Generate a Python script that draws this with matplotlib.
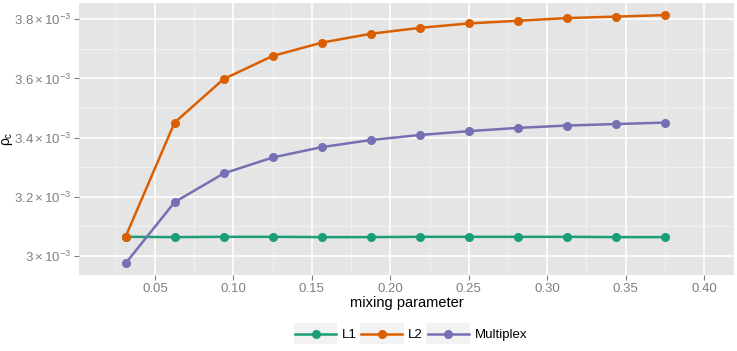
import numpy as np
import matplotlib
matplotlib.use("Agg")
import matplotlib.pyplot as plt
from matplotlib.legend_handler import HandlerLine2D
from matplotlib.patches import Rectangle

plt.rcParams['font.family'] = ['Liberation Sans', 'DejaVu Sans']
plt.rcParams['mathtext.fontset'] = 'custom'
plt.rcParams['mathtext.rm'] = 'Liberation Sans'
plt.rcParams['mathtext.it'] = 'Liberation Sans'

# mixing parameter values (k/32)
mixing = [1/32, 2/32, 3/32, 4/32, 5/32, 6/32, 7/32, 8/32, 9/32, 10/32, 11/32, 12/32]

# rho_c values, in units of 1e-3
l1 = [3.065, 3.064, 3.065, 3.065, 3.064, 3.064, 3.065, 3.065, 3.065, 3.065, 3.064, 3.064]
l2 = [3.065, 3.451, 3.598, 3.676, 3.721, 3.751, 3.771, 3.786, 3.795, 3.804, 3.809, 3.814]
multiplex = [2.975, 3.182, 3.279, 3.333, 3.368, 3.392, 3.409, 3.422, 3.433, 3.441, 3.446, 3.451]

series = [("L1", l1, "#1B9E77"), ("L2", l2, "#D95F02"), ("Multiplex", multiplex, "#7570B3")]

x_ticks = [0.05, 0.10, 0.15, 0.20, 0.25, 0.30, 0.35, 0.40]
y_ticks = [3.0, 3.2, 3.4, 3.6, 3.8]
y_labels = [r'$3\times10^{-3}$', r'$3.2\times10^{-3}$', r'$3.4\times10^{-3}$',
            r'$3.6\times10^{-3}$', r'$3.8\times10^{-3}$']

fig = plt.figure(figsize=(7.37, 3.51), dpi=100)
ax = fig.add_axes([79/737, 1 - 275/351, (734 - 79)/737, (275 - 3)/351])
ax.set_facecolor("#E5E5E5")

# grid: major white, minor faint
for xv in np.arange(0.025, 0.42, 0.05):
    ax.axvline(xv, color="#F2F2F2", lw=0.6, zorder=0)
for yv in [2.9, 3.1, 3.3, 3.5, 3.7]:
    ax.axhline(yv, color="#F2F2F2", lw=0.6, zorder=0)
for xv in x_ticks:
    ax.axvline(xv, color="white", lw=1.2, zorder=0.5)
for yv in y_ticks:
    ax.axhline(yv, color="white", lw=1.2, zorder=0.5)

for name, vals, col in series:
    ax.plot(mixing, vals, color=col, lw=1.8, marker="o", ms=5.5, label=name, zorder=3)

ax.set_xlim(0.0016, 0.419)
ax.set_ylim(2.936, 3.855)
ax.set_xticks(x_ticks)
ax.set_xticklabels([f"{v:.2f}" for v in x_ticks])
ax.set_yticks(y_ticks)
ax.set_yticklabels(y_labels)
ax.tick_params(colors="#7F7F7F", length=3.5, width=0.8, pad=2)
ax.tick_params(axis="x", labelsize=9.5)
ax.tick_params(axis="y", labelsize=9.5)
for s in ax.spines.values():
    s.set_visible(False)

ax.set_xlabel("mixing parameter", fontsize=10.5, labelpad=1)
ax.set_ylabel(r'$\rho_\mathrm{c}$', fontsize=10)
ax.yaxis.set_label_coords(15/737, 1 - 139/351, transform=fig.transFigure)


class KeyHandler(HandlerLine2D):
    def create_artists(self, legend, orig_handle, xdescent, ydescent, width, height, fontsize, trans):
        bg = Rectangle((-xdescent - 1, -ydescent - 4), width + 2, height + 8,
                       facecolor="#F2F2F2", edgecolor="none", transform=trans)
        arts = super().create_artists(legend, orig_handle, xdescent, ydescent,
                                      width, height, fontsize, trans)
        return [bg] + list(arts)


handles, labels = ax.get_legend_handles_labels()
fig.legend(handles, labels, loc="center", bbox_to_anchor=(411/737, 1 - 335/351), ncol=3,
           frameon=False, fontsize=9.5, handlelength=3.1, handletextpad=0.45,
           columnspacing=0.35, numpoints=1,
           handler_map={h: KeyHandler(numpoints=1) for h in handles})

fig.savefig("out.png", dpi=100)
